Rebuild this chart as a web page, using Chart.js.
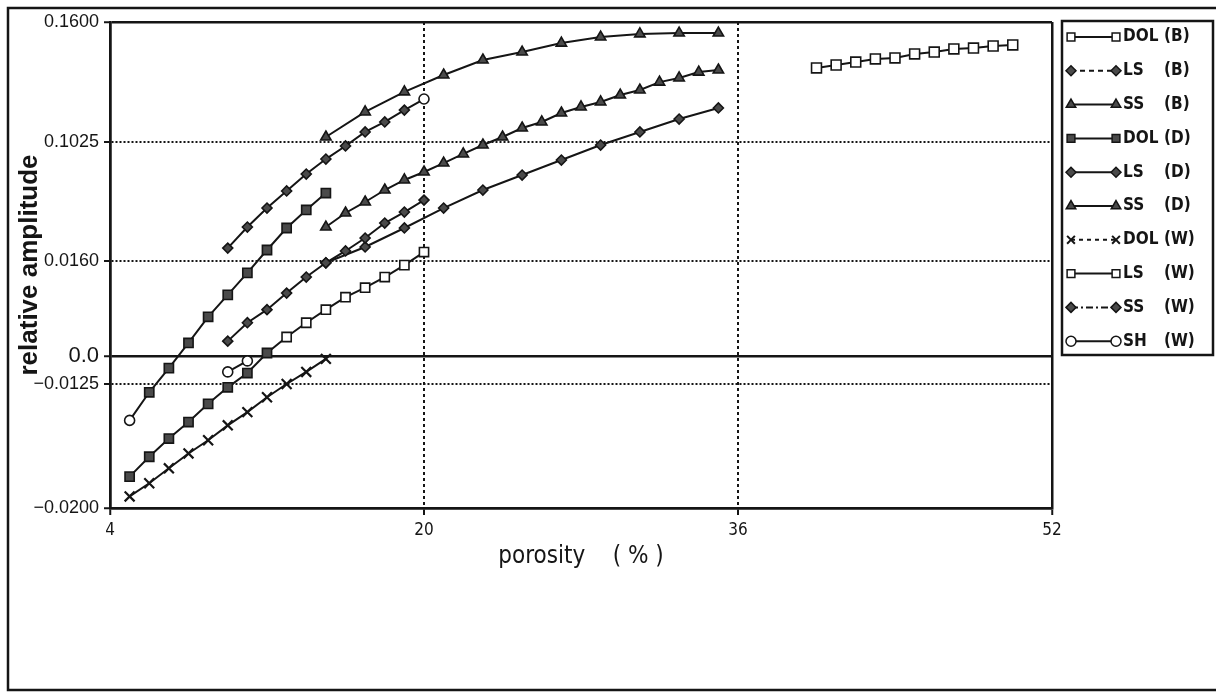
<!DOCTYPE html>
<html>
<head>
<meta charset="utf-8">
<title>relative amplitude vs porosity</title>
<script src="https://cdn.jsdelivr.net/npm/chart.js@4.4.1/dist/chart.umd.min.js"></script>
<style>
html,body{margin:0;padding:0;background:#ffffff;overflow:hidden;}
canvas{display:block;}
</style>
</head>
<body>
<canvas id="chart" width="1218" height="697"></canvas>
<script>
// ---------------- data ----------------
const seriesNames  = ['DOL', 'LS', 'SS', 'DOL', 'LS', 'SS', 'DOL', 'LS', 'SS', 'SH'];
const seriesGroups = ['B', 'B', 'B', 'D', 'D', 'D', 'W', 'W', 'W', 'W'];

const porDolB = [40, 41, 42, 43, 44, 45, 46, 47, 48, 49, 50];
const ampDolB = [0.1380, 0.1394, 0.1408, 0.1423, 0.1428, 0.1447, 0.1456, 0.1471, 0.1475, 0.1485, 0.1490];

const porLsB = [10, 11, 12, 13, 14, 15, 16, 17, 18, 19, 20];
const ampLsB = [0.0254, 0.0407, 0.0545, 0.0669, 0.0792, 0.0901, 0.0996, 0.1073, 0.1121, 0.1178, 0.1231];

const porSsB = [15, 17, 19, 21, 23, 25, 27, 29, 31, 33, 35];
const ampSsB = [0.1049, 0.1169, 0.1265, 0.1346, 0.1418, 0.1456, 0.1499, 0.1528, 0.1543, 0.1547, 0.1547];

const porDolD = [5, 6, 7, 8, 9, 10, 11, 12, 13, 14, 15];
const ampDolD = [-0.0147, -0.0130, -0.0054, 0.0022, 0.0066, 0.0103, 0.0140, 0.0240, 0.0400, 0.0531, 0.0654];

const porLsD = [10, 11, 12, 13, 14, 15, 16, 17, 18, 19, 20];
const ampLsD = [0.0025, 0.0056, 0.0078, 0.0106, 0.0133, 0.0157, 0.0233, 0.0327, 0.0436, 0.0516, 0.0603];

const porSsD = [15, 16, 17, 18, 19, 20, 21, 22, 23, 24, 25, 26, 27, 28, 29, 30, 31, 32, 33, 34, 35];
const ampSsD = [0.0407, 0.0509, 0.0589, 0.0676, 0.0749, 0.0807, 0.0872, 0.0938, 0.1003, 0.1049, 0.1092,
                0.1121, 0.1164, 0.1193, 0.1217, 0.1250, 0.1274, 0.1312, 0.1332, 0.1360, 0.1370];

const porDolW = [5, 6, 7, 8, 9, 10, 11, 12, 13, 14, 15];
const ampDolW = [-0.0193, -0.0185, -0.0176, -0.0167, -0.0159, -0.0150, -0.0142, -0.0133, -0.0125, -0.0071, -0.0013];

const porLsW = [5, 6, 7, 8, 9, 10, 11, 12, 13, 14, 15, 16, 17, 18, 19, 20];
const ampLsW = [-0.0181, -0.0169, -0.0158, -0.0148, -0.0137, -0.0127, -0.0076, 0.0005,
                0.0032, 0.0056, 0.0078, 0.0099, 0.0115, 0.0133, 0.0153, 0.0225];

const porSsW = [15, 17, 19, 21, 23, 25, 27, 29, 31, 33, 35];
const ampSsW = [0.0157, 0.0262, 0.0400, 0.0545, 0.0676, 0.0785, 0.0894, 0.1003, 0.1073, 0.1135, 0.1188];

const porShW = [10, 11];
const ampShW = [-0.0071, -0.0022];

// axis ticks
const xTickValues = [4, 20, 36, 52];
const yTickValues = [-0.0200, -0.0125, 0.0, 0.0160, 0.1025, 0.1600];
const yTickLabels = ['\u22120.0200', '\u22120.0125', '0.0', '0.0160', '0.1025', '0.1600'];

// ---------------- axis design (segmented amplitude axis) ----------------
const ySegmentPlace = [0, 0.2551, 0.3128, 0.5082, 0.7531, 1];

function toFrac(v) {
  const V = yTickValues, P = ySegmentPlace, n = V.length - 1;
  if (v <= V[0]) return P[0] + (v - V[0]) / (V[1] - V[0]) * (P[1] - P[0]);
  for (let i = 1; i <= n; i++) {
    if (v <= V[i]) return P[i - 1] + (v - V[i - 1]) / (V[i] - V[i - 1]) * (P[i] - P[i - 1]);
  }
  return P[n] + (v - V[n]) / (V[n] - V[n - 1]) * (P[n] - P[n - 1]);
}
function fromFrac(f) {
  const V = yTickValues, P = ySegmentPlace, n = V.length - 1;
  for (let i = 1; i <= n; i++) {
    if (f <= P[i] || i === n) return V[i - 1] + (f - P[i - 1]) / (P[i] - P[i - 1]) * (V[i] - V[i - 1]);
  }
}

class SegmentScale extends Chart.LinearScale {
  determineDataLimits() {
    this.min = yTickValues[0];
    this.max = yTickValues[yTickValues.length - 1];
  }
  buildTicks() { return yTickValues.map(v => ({ value: v })); }
  getPixelForValue(v) { return this.getPixelForDecimal(toFrac(v)); }
  getValueForPixel(p) { return fromFrac(this.getDecimalForPixel(p)); }
}
SegmentScale.id = 'segment';
SegmentScale.defaults = Chart.LinearScale.defaults;
Chart.register(SegmentScale);

// ---------------- styles ----------------
const INK = '#151515';
const FILL = '#4a4a4a';
const markerShape = ['rect', 'rectRot', 'triangle', 'rect', 'rectRot', 'triangle', 'crossRot', 'rect', 'rectRot', 'circle'];
const markerOpen  = [true, false, false, false, false, false, false, true, false, true];
const markerSize  = [7, 5, 6, 6.5, 5, 6, 7, 6.5, 5, 5];
const legendDash  = [[], [5, 4], [], [], [], [], [4, 4], [], [7, 3, 2, 3], []];

function zip(xs, ys) { return xs.map((x, i) => ({ x: x, y: ys[i] })); }

const seriesPoints = [
  zip(porDolB, ampDolB), zip(porLsB, ampLsB), zip(porSsB, ampSsB),
  zip(porDolD, ampDolD), zip(porLsD, ampLsD), zip(porSsD, ampSsD),
  zip(porDolW, ampDolW), zip(porLsW, ampLsW), zip(porSsW, ampSsW),
  zip(porShW, ampShW)
];

// special markers seen on the plot: LS(B) ends with an open circle,
// DOL(D) starts with an open circle, LS(W) markers filled up to 12 %
function styleFor(i, ctx) {
  const n = seriesPoints[i].length;
  const idx = ctx.dataIndex;
  if (i === 1 && idx === n - 1) return { shape: 'circle', open: true, r: 5 };
  if (i === 3 && idx === 0) return { shape: 'circle', open: true, r: 5 };
  if (i === 7) {
    const p = seriesPoints[i][idx];
    return { shape: 'rect', open: !(p && p.x <= 12), r: 6.5 };
  }
  return { shape: markerShape[i], open: markerOpen[i], r: markerSize[i] };
}

const datasets = seriesPoints.map((pts, i) => ({
  label: seriesNames[i] + ' (' + seriesGroups[i] + ')',
  data: pts,
  borderColor: INK,
  borderWidth: 2,
  showLine: true,
  fill: false,
  tension: 0,
  pointStyle: ctx => styleFor(i, ctx).shape,
  pointRadius: ctx => styleFor(i, ctx).r,
  pointBackgroundColor: ctx => styleFor(i, ctx).open ? '#ffffff' : FILL,
  pointBorderColor: INK,
  pointBorderWidth: ctx => markerShape[i] === 'crossRot' ? 2.2 : 1.6,
  pointHoverRadius: ctx => styleFor(i, ctx).r
}));

// ---------------- frame + legend plugin ----------------
const framePlugin = {
  id: 'frameLegend',
  afterDraw(chart) {
    const ctx = chart.ctx;
    ctx.save();
    ctx.strokeStyle = INK;
    ctx.lineWidth = 2.5;
    ctx.setLineDash([]);
    // outer frame
    ctx.beginPath();
    ctx.moveTo(1216, 8); ctx.lineTo(8, 8); ctx.lineTo(8, 690); ctx.lineTo(1216, 690);
    ctx.stroke();
    // legend box
    ctx.strokeRect(1062, 21, 151, 334);

    chart.data.datasets.forEach((ds, i) => {
      const y = 37 + i * 33.8;
      ctx.strokeStyle = INK;
      ctx.lineWidth = 2;
      ctx.setLineDash(legendDash[i]);
      ctx.beginPath(); ctx.moveTo(1071, y); ctx.lineTo(1116, y); ctx.stroke();
      ctx.setLineDash([]);
      [1071, 1116].forEach(px => {
        ctx.fillStyle = markerOpen[i] ? '#ffffff' : FILL;
        ctx.strokeStyle = INK;
        ctx.lineWidth = markerShape[i] === 'crossRot' ? 2 : 1.5;
        Chart.helpers.drawPoint(ctx, {
          pointStyle: markerShape[i], rotation: 0,
          radius: Math.min(markerSize[i], 5.5), borderWidth: ctx.lineWidth
        }, px, y);
      });
      ctx.fillStyle = INK;
      ctx.font = 'bold 17px "DejaVu Sans Condensed", "DejaVu Sans", sans-serif';
      ctx.textAlign = 'left';
      ctx.textBaseline = 'middle';
      ctx.fillText(seriesNames[i], 1123, y);
      ctx.fillText('(' + seriesGroups[i] + ')', 1164, y);
    });
    ctx.restore();
  }
};

// ---------------- chart ----------------
const dottedY = v => (v === -0.0125 || v === 0.016 || v === 0.1025);
const dottedX = v => (v === 20 || v === 36);

new Chart(document.getElementById('chart'), {
  type: 'scatter',
  data: { datasets: datasets },
  options: {
    responsive: false,
    animation: false,
    devicePixelRatio: 1,
    layout: { padding: { left: 0, top: 22, right: 166, bottom: 0 } },
    plugins: { legend: { display: false }, tooltip: { enabled: false } },
    scales: {
      x: {
        type: 'linear',
        min: 4, max: 52,
        afterBuildTicks: s => { s.ticks = xTickValues.map(v => ({ value: v })); },
        afterFit: s => { s.height = 189; },
        ticks: {
          autoSkip: false,
          maxRotation: 0,
          padding: 5,
          color: INK,
          font: { family: '"DejaVu Sans Condensed", "DejaVu Sans", sans-serif', size: 17 },
          callback: v => String(v)
        },
        grid: {
          color: INK,
          lineWidth: ctx => (ctx.tick && dottedX(ctx.tick.value)) ? 2 : 2.5,
          tickLength: 7,
          tickColor: INK,
          tickWidth: 2
        },
        border: {
          display: true, color: INK, width: 2.5,
          dash: ctx => (ctx.tick && dottedX(ctx.tick.value)) ? [3, 3] : []
        },
        title: {
          display: true,
          text: 'porosity    ( % )',
          color: INK,
          font: { family: '"DejaVu Sans Condensed", "DejaVu Sans", sans-serif', size: 24 },
          padding: { top: 0, bottom: 126 }
        }
      },
      y: {
        type: 'segment',
        afterFit: s => { s.width = 110; },
        ticks: {
          autoSkip: false,
          padding: 5,
          color: INK,
          font: ctx => ({ family: '"Liberation Sans", Arial, sans-serif',
                          size: (ctx.tick && ctx.tick.value === 0) ? 22 : 18 }),
          callback: v => yTickLabels[yTickValues.indexOf(v)]
        },
        grid: {
          color: INK,
          lineWidth: ctx => (ctx.tick && dottedY(ctx.tick.value)) ? 2 : 2.5,
          tickLength: 6,
          tickColor: INK,
          tickWidth: 2
        },
        border: {
          display: true, color: INK, width: 2.5,
          dash: ctx => (ctx.tick && dottedY(ctx.tick.value)) ? [2, 2] : []
        },
        title: {
          display: true,
          text: 'relative amplitude',
          color: INK,
          font: { family: '"Liberation Sans", Arial, sans-serif', size: 26, weight: 'bold' },
          padding: { top: 14, bottom: 0 }
        }
      }
    }
  },
  plugins: [framePlugin]
});
</script>
</body>
</html>
